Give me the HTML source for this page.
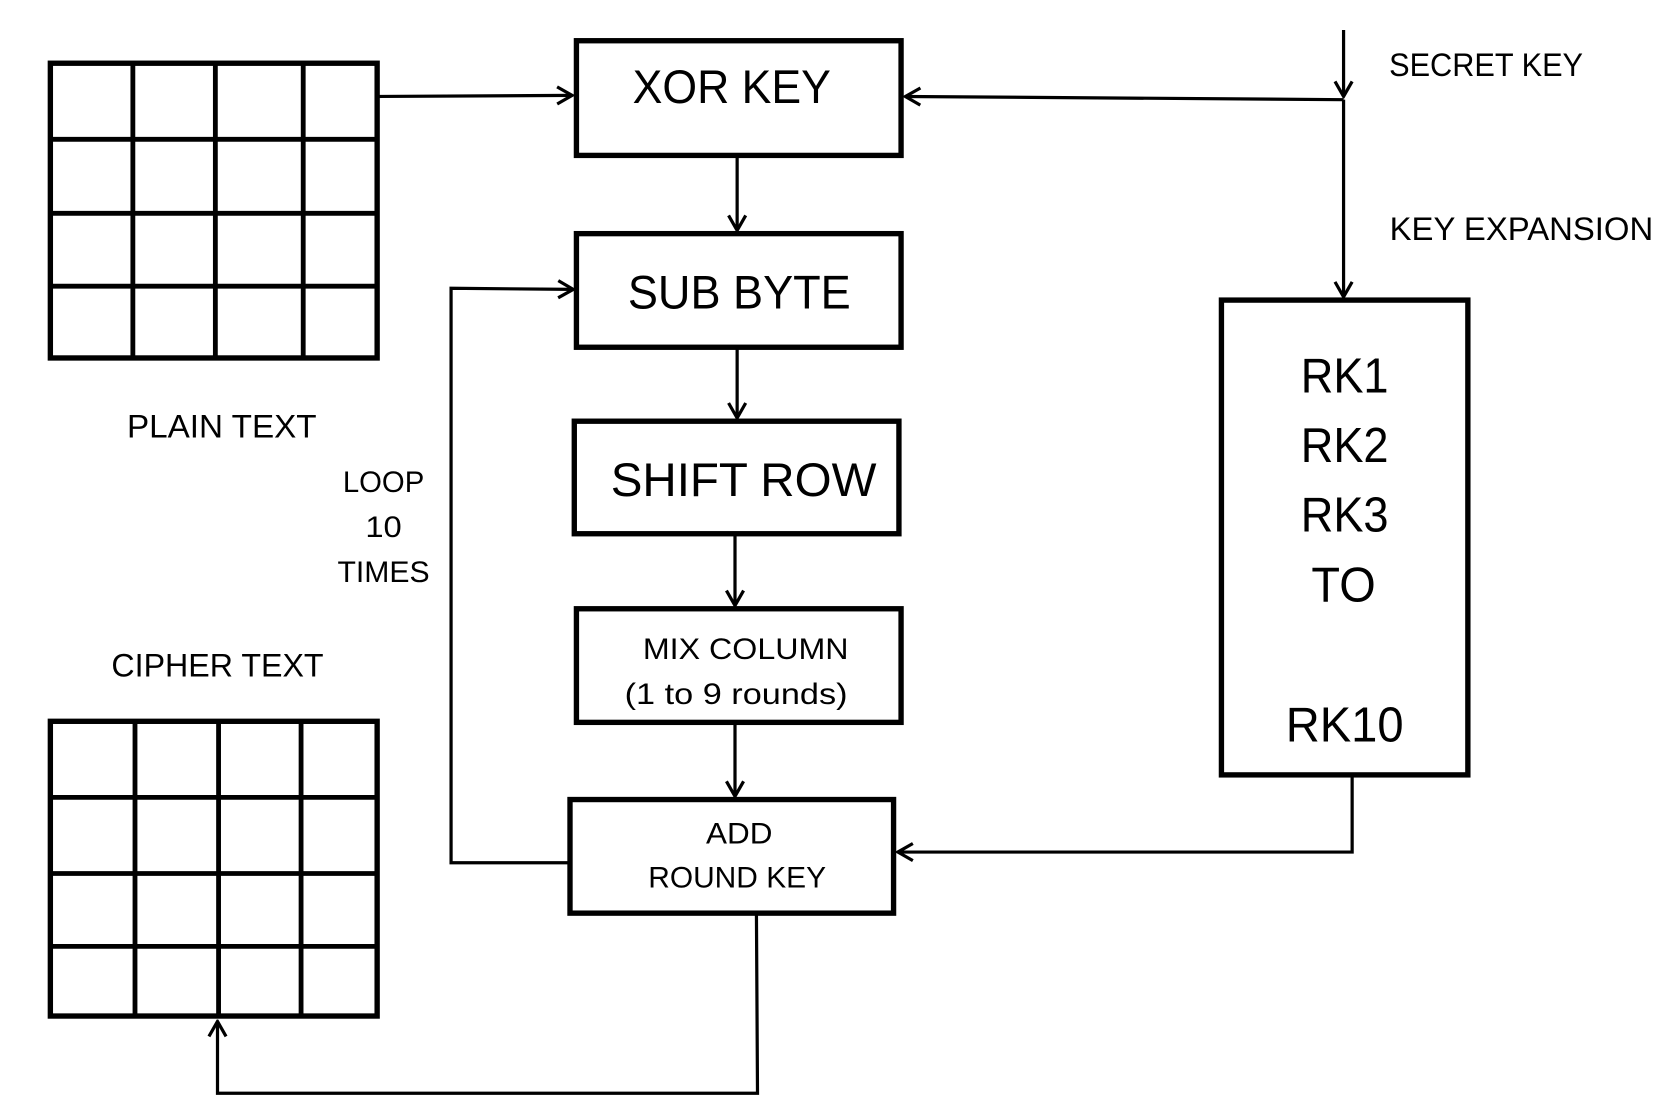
<!DOCTYPE html>
<html><head><meta charset="utf-8"><style>
html,body{margin:0;padding:0;background:#fff;}
svg{display:block;}
text{font-family:"Liberation Sans",sans-serif;fill:#000;text-anchor:middle;}
</style></head><body>
<svg width="1680" height="1120" viewBox="0 0 1568 1045" preserveAspectRatio="none" xmlns="http://www.w3.org/2000/svg">
<defs>
<marker id="a" viewBox="0 0 20 20" refX="18" refY="10" markerWidth="20" markerHeight="20" markerUnits="userSpaceOnUse" orient="auto">
<path d="M4,2 L18,10 L4,18" fill="none" stroke="#000" stroke-width="3"/>
</marker>
</defs>
<g fill="none" stroke="#000" stroke-width="5">
<!-- plain grid -->
<rect x="47" y="59" width="305" height="275"/>
<path d="M124,59V336M201,59V334M283,59V334M47,130H352M47,199H352M47,267H352" stroke-width="4.5"/>
<!-- cipher grid -->
<rect x="47" y="673" width="305" height="275"/>
<path d="M126,673V948M204,673V948M281,673V948M47,744H352M47,815H352M47,883H352" stroke-width="4.5"/>
<!-- boxes -->
<rect x="538" y="38" width="303" height="107"/>
<rect x="538" y="218" width="303" height="106"/>
<rect x="536" y="393" width="303" height="105"/>
<rect x="538" y="568" width="303" height="106"/>
<rect x="532" y="746" width="302" height="106"/>
<rect x="1140" y="280" width="230" height="443"/>
</g>
<g fill="none" stroke="#000" stroke-width="3">
<path d="M352,90 L534,89" marker-end="url(#a)"/>
<path d="M688,145 V215" marker-end="url(#a)"/>
<path d="M688,324 V390" marker-end="url(#a)"/>
<path d="M686,498 V565" marker-end="url(#a)"/>
<path d="M686,674 V743" marker-end="url(#a)"/>
<path d="M1254,28 V90" marker-end="url(#a)"/>
<path d="M1254,93 L845,90" marker-end="url(#a)"/>
<path d="M1254,93 V277" marker-end="url(#a)"/>
<path d="M1262,723 V795 H838" marker-end="url(#a)"/>
<path d="M532,805 H421 V269 L535,270" marker-end="url(#a)"/>
<path d="M706,852 L707,1020 H203 V953" marker-end="url(#a)"/>
</g>
<text x="683" y="96" font-size="44" textLength="185" lengthAdjust="spacingAndGlyphs">XOR KEY</text>
<text x="690" y="288" font-size="44" textLength="208" lengthAdjust="spacingAndGlyphs">SUB BYTE</text>
<text x="694" y="463" font-size="44" textLength="248" lengthAdjust="spacingAndGlyphs">SHIFT ROW</text>
<text x="696" y="615" font-size="28" textLength="192" lengthAdjust="spacingAndGlyphs">MIX COLUMN</text>
<text x="687" y="657" font-size="28" textLength="208" lengthAdjust="spacingAndGlyphs">(1 to 9 rounds)</text>
<text x="690" y="787" font-size="28" textLength="62" lengthAdjust="spacingAndGlyphs">ADD</text>
<text x="688" y="828" font-size="28" textLength="166" lengthAdjust="spacingAndGlyphs">ROUND KEY</text>
<text x="1255" y="366" font-size="46" textLength="82" lengthAdjust="spacingAndGlyphs">RK1</text>
<text x="1255" y="431" font-size="46" textLength="82" lengthAdjust="spacingAndGlyphs">RK2</text>
<text x="1255" y="496" font-size="46" textLength="82" lengthAdjust="spacingAndGlyphs">RK3</text>
<text x="1254" y="561" font-size="46" textLength="60" lengthAdjust="spacingAndGlyphs">TO</text>
<text x="1255" y="692" font-size="46" textLength="110" lengthAdjust="spacingAndGlyphs">RK10</text>
<text x="207" y="408" font-size="30" textLength="177" lengthAdjust="spacingAndGlyphs">PLAIN TEXT</text>
<text x="203" y="631" font-size="30" textLength="198" lengthAdjust="spacingAndGlyphs">CIPHER TEXT</text>
<text x="358" y="459" font-size="28" textLength="76" lengthAdjust="spacingAndGlyphs">LOOP</text>
<text x="358" y="501" font-size="28" textLength="34" lengthAdjust="spacingAndGlyphs">10</text>
<text x="358" y="543" font-size="28" textLength="86" lengthAdjust="spacingAndGlyphs">TIMES</text>
<text x="1387" y="71" font-size="30" textLength="181" lengthAdjust="spacingAndGlyphs">SECRET KEY</text>
<text x="1420" y="224" font-size="30" textLength="246" lengthAdjust="spacingAndGlyphs">KEY EXPANSION</text>
</svg>
</body></html>
